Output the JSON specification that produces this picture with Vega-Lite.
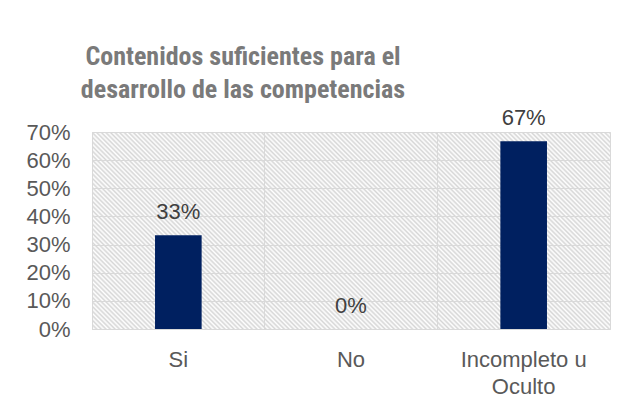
{
  "$schema": "https://vega.github.io/schema/vega-lite/v6.json",
  "width": 518,
  "height": 197,
  "autosize": {"type": "none"},
  "padding": {"left": 92, "top": 132, "right": 19, "bottom": 78},
  "background": "white",
  "title": {
    "text": ["Contenidos suficientes para el", "desarrollo de las competencias"],
    "anchor": "start",
    "align": "center",
    "dx": 151,
    "frame": "group",
    "baseline": "bottom",
    "offset": -22,
    "font": "Roboto Condensed, Liberation Sans Narrow, Lato, sans-serif",
    "fontSize": 26,
    "fontWeight": "bold",
    "color": "#7a7a7a",
    "lineHeight": 33
  },
  "view": {
    "stroke": "#d9d9d9",
    "strokeWidth": 1,
    "fill": {
      "gradient": "linear",
      "x1": 0, "y1": 1, "x2": 1.206, "y2": 0.541,
      "stops": [
{"offset":0,"color":"#d6d6d6"},{"offset":0.0032,"color":"#fff"},{"offset":0.0064,"color":"#d6d6d6"},{"offset":0.0096,"color":"#fff"},
{"offset":0.0128,"color":"#d6d6d6"},{"offset":0.016,"color":"#fff"},{"offset":0.0192,"color":"#d6d6d6"},{"offset":0.0224,"color":"#fff"},
{"offset":0.0256,"color":"#d6d6d6"},{"offset":0.0288,"color":"#fff"},{"offset":0.032,"color":"#d6d6d6"},{"offset":0.0352,"color":"#fff"},
{"offset":0.0384,"color":"#d6d6d6"},{"offset":0.0416,"color":"#fff"},{"offset":0.0448,"color":"#d6d6d6"},{"offset":0.048,"color":"#fff"},
{"offset":0.0512,"color":"#d6d6d6"},{"offset":0.0544,"color":"#fff"},{"offset":0.0576,"color":"#d6d6d6"},{"offset":0.0608,"color":"#fff"},
{"offset":0.064,"color":"#d6d6d6"},{"offset":0.0672,"color":"#fff"},{"offset":0.0704,"color":"#d6d6d6"},{"offset":0.0736,"color":"#fff"},
{"offset":0.0768,"color":"#d6d6d6"},{"offset":0.08,"color":"#fff"},{"offset":0.0832,"color":"#d6d6d6"},{"offset":0.0864,"color":"#fff"},
{"offset":0.0896,"color":"#d6d6d6"},{"offset":0.0928,"color":"#fff"},{"offset":0.096,"color":"#d6d6d6"},{"offset":0.0992,"color":"#fff"},
{"offset":0.1024,"color":"#d6d6d6"},{"offset":0.1056,"color":"#fff"},{"offset":0.1088,"color":"#d6d6d6"},{"offset":0.112,"color":"#fff"},
{"offset":0.1152,"color":"#d6d6d6"},{"offset":0.1184,"color":"#fff"},{"offset":0.1216,"color":"#d6d6d6"},{"offset":0.1248,"color":"#fff"},
{"offset":0.128,"color":"#d6d6d6"},{"offset":0.1312,"color":"#fff"},{"offset":0.1344,"color":"#d6d6d6"},{"offset":0.1376,"color":"#fff"},
{"offset":0.1408,"color":"#d6d6d6"},{"offset":0.144,"color":"#fff"},{"offset":0.1472,"color":"#d6d6d6"},{"offset":0.1504,"color":"#fff"},
{"offset":0.1536,"color":"#d6d6d6"},{"offset":0.1568,"color":"#fff"},{"offset":0.16,"color":"#d6d6d6"},{"offset":0.1632,"color":"#fff"},
{"offset":0.1664,"color":"#d6d6d6"},{"offset":0.1696,"color":"#fff"},{"offset":0.1728,"color":"#d6d6d6"},{"offset":0.176,"color":"#fff"},
{"offset":0.1792,"color":"#d6d6d6"},{"offset":0.1824,"color":"#fff"},{"offset":0.1856,"color":"#d6d6d6"},{"offset":0.1888,"color":"#fff"},
{"offset":0.192,"color":"#d6d6d6"},{"offset":0.1952,"color":"#fff"},{"offset":0.1984,"color":"#d6d6d6"},{"offset":0.2016,"color":"#fff"},
{"offset":0.2048,"color":"#d6d6d6"},{"offset":0.208,"color":"#fff"},{"offset":0.2112,"color":"#d6d6d6"},{"offset":0.2144,"color":"#fff"},
{"offset":0.2176,"color":"#d6d6d6"},{"offset":0.2208,"color":"#fff"},{"offset":0.224,"color":"#d6d6d6"},{"offset":0.2272,"color":"#fff"},
{"offset":0.2304,"color":"#d6d6d6"},{"offset":0.2336,"color":"#fff"},{"offset":0.2368,"color":"#d6d6d6"},{"offset":0.24,"color":"#fff"},
{"offset":0.2432,"color":"#d6d6d6"},{"offset":0.2464,"color":"#fff"},{"offset":0.2496,"color":"#d6d6d6"},{"offset":0.2528,"color":"#fff"},
{"offset":0.256,"color":"#d6d6d6"},{"offset":0.2592,"color":"#fff"},{"offset":0.2624,"color":"#d6d6d6"},{"offset":0.2656,"color":"#fff"},
{"offset":0.2688,"color":"#d6d6d6"},{"offset":0.272,"color":"#fff"},{"offset":0.2752,"color":"#d6d6d6"},{"offset":0.2784,"color":"#fff"},
{"offset":0.2816,"color":"#d6d6d6"},{"offset":0.2848,"color":"#fff"},{"offset":0.288,"color":"#d6d6d6"},{"offset":0.2912,"color":"#fff"},
{"offset":0.2944,"color":"#d6d6d6"},{"offset":0.2976,"color":"#fff"},{"offset":0.3008,"color":"#d6d6d6"},{"offset":0.304,"color":"#fff"},
{"offset":0.3072,"color":"#d6d6d6"},{"offset":0.3104,"color":"#fff"},{"offset":0.3136,"color":"#d6d6d6"},{"offset":0.3168,"color":"#fff"},
{"offset":0.32,"color":"#d6d6d6"},{"offset":0.3232,"color":"#fff"},{"offset":0.3264,"color":"#d6d6d6"},{"offset":0.3296,"color":"#fff"},
{"offset":0.3328,"color":"#d6d6d6"},{"offset":0.336,"color":"#fff"},{"offset":0.3392,"color":"#d6d6d6"},{"offset":0.3424,"color":"#fff"},
{"offset":0.3456,"color":"#d6d6d6"},{"offset":0.3488,"color":"#fff"},{"offset":0.352,"color":"#d6d6d6"},{"offset":0.3552,"color":"#fff"},
{"offset":0.3584,"color":"#d6d6d6"},{"offset":0.3616,"color":"#fff"},{"offset":0.3648,"color":"#d6d6d6"},{"offset":0.368,"color":"#fff"},
{"offset":0.3712,"color":"#d6d6d6"},{"offset":0.3744,"color":"#fff"},{"offset":0.3776,"color":"#d6d6d6"},{"offset":0.3808,"color":"#fff"},
{"offset":0.384,"color":"#d6d6d6"},{"offset":0.3872,"color":"#fff"},{"offset":0.3904,"color":"#d6d6d6"},{"offset":0.3936,"color":"#fff"},
{"offset":0.3968,"color":"#d6d6d6"},{"offset":0.4,"color":"#fff"},{"offset":0.4032,"color":"#d6d6d6"},{"offset":0.4064,"color":"#fff"},
{"offset":0.4096,"color":"#d6d6d6"},{"offset":0.4128,"color":"#fff"},{"offset":0.416,"color":"#d6d6d6"},{"offset":0.4192,"color":"#fff"},
{"offset":0.4224,"color":"#d6d6d6"},{"offset":0.4256,"color":"#fff"},{"offset":0.4288,"color":"#d6d6d6"},{"offset":0.432,"color":"#fff"},
{"offset":0.4352,"color":"#d6d6d6"},{"offset":0.4384,"color":"#fff"},{"offset":0.4416,"color":"#d6d6d6"},{"offset":0.4448,"color":"#fff"},
{"offset":0.448,"color":"#d6d6d6"},{"offset":0.4512,"color":"#fff"},{"offset":0.4544,"color":"#d6d6d6"},{"offset":0.4576,"color":"#fff"},
{"offset":0.4608,"color":"#d6d6d6"},{"offset":0.464,"color":"#fff"},{"offset":0.4672,"color":"#d6d6d6"},{"offset":0.4704,"color":"#fff"},
{"offset":0.4736,"color":"#d6d6d6"},{"offset":0.4768,"color":"#fff"},{"offset":0.48,"color":"#d6d6d6"},{"offset":0.4832,"color":"#fff"},
{"offset":0.4864,"color":"#d6d6d6"},{"offset":0.4896,"color":"#fff"},{"offset":0.4928,"color":"#d6d6d6"},{"offset":0.496,"color":"#fff"},
{"offset":0.4992,"color":"#d6d6d6"},{"offset":0.5024,"color":"#fff"},{"offset":0.5056,"color":"#d6d6d6"},{"offset":0.5088,"color":"#fff"},
{"offset":0.512,"color":"#d6d6d6"},{"offset":0.5152,"color":"#fff"},{"offset":0.5184,"color":"#d6d6d6"},{"offset":0.5216,"color":"#fff"},
{"offset":0.5248,"color":"#d6d6d6"},{"offset":0.528,"color":"#fff"},{"offset":0.5312,"color":"#d6d6d6"},{"offset":0.5344,"color":"#fff"},
{"offset":0.5376,"color":"#d6d6d6"},{"offset":0.5408,"color":"#fff"},{"offset":0.544,"color":"#d6d6d6"},{"offset":0.5472,"color":"#fff"},
{"offset":0.5504,"color":"#d6d6d6"},{"offset":0.5536,"color":"#fff"},{"offset":0.5568,"color":"#d6d6d6"},{"offset":0.56,"color":"#fff"},
{"offset":0.5632,"color":"#d6d6d6"},{"offset":0.5664,"color":"#fff"},{"offset":0.5696,"color":"#d6d6d6"},{"offset":0.5728,"color":"#fff"},
{"offset":0.576,"color":"#d6d6d6"},{"offset":0.5792,"color":"#fff"},{"offset":0.5824,"color":"#d6d6d6"},{"offset":0.5856,"color":"#fff"},
{"offset":0.5888,"color":"#d6d6d6"},{"offset":0.592,"color":"#fff"},{"offset":0.5952,"color":"#d6d6d6"},{"offset":0.5984,"color":"#fff"},
{"offset":0.6016,"color":"#d6d6d6"},{"offset":0.6048,"color":"#fff"},{"offset":0.608,"color":"#d6d6d6"},{"offset":0.6112,"color":"#fff"},
{"offset":0.6144,"color":"#d6d6d6"},{"offset":0.6176,"color":"#fff"},{"offset":0.6208,"color":"#d6d6d6"},{"offset":0.624,"color":"#fff"},
{"offset":0.6272,"color":"#d6d6d6"},{"offset":0.6304,"color":"#fff"},{"offset":0.6336,"color":"#d6d6d6"},{"offset":0.6368,"color":"#fff"},
{"offset":0.64,"color":"#d6d6d6"},{"offset":0.6432,"color":"#fff"},{"offset":0.6464,"color":"#d6d6d6"},{"offset":0.6496,"color":"#fff"},
{"offset":0.6528,"color":"#d6d6d6"},{"offset":0.656,"color":"#fff"},{"offset":0.6592,"color":"#d6d6d6"},{"offset":0.6624,"color":"#fff"},
{"offset":0.6656,"color":"#d6d6d6"},{"offset":0.6688,"color":"#fff"},{"offset":0.672,"color":"#d6d6d6"},{"offset":0.6752,"color":"#fff"},
{"offset":0.6784,"color":"#d6d6d6"},{"offset":0.6816,"color":"#fff"},{"offset":0.6848,"color":"#d6d6d6"},{"offset":0.688,"color":"#fff"},
{"offset":0.6912,"color":"#d6d6d6"},{"offset":0.6944,"color":"#fff"},{"offset":0.6976,"color":"#d6d6d6"},{"offset":0.7008,"color":"#fff"},
{"offset":0.704,"color":"#d6d6d6"},{"offset":0.7072,"color":"#fff"},{"offset":0.7104,"color":"#d6d6d6"},{"offset":0.7136,"color":"#fff"},
{"offset":0.7168,"color":"#d6d6d6"},{"offset":0.72,"color":"#fff"},{"offset":0.7232,"color":"#d6d6d6"},{"offset":0.7264,"color":"#fff"},
{"offset":0.7296,"color":"#d6d6d6"},{"offset":0.7328,"color":"#fff"},{"offset":0.736,"color":"#d6d6d6"},{"offset":0.7392,"color":"#fff"},
{"offset":0.7424,"color":"#d6d6d6"},{"offset":0.7456,"color":"#fff"},{"offset":0.7488,"color":"#d6d6d6"},{"offset":0.752,"color":"#fff"},
{"offset":0.7552,"color":"#d6d6d6"},{"offset":0.7584,"color":"#fff"},{"offset":0.7616,"color":"#d6d6d6"},{"offset":0.7648,"color":"#fff"},
{"offset":0.768,"color":"#d6d6d6"},{"offset":0.7712,"color":"#fff"},{"offset":0.7744,"color":"#d6d6d6"},{"offset":0.7776,"color":"#fff"},
{"offset":0.7808,"color":"#d6d6d6"},{"offset":0.784,"color":"#fff"},{"offset":0.7872,"color":"#d6d6d6"},{"offset":0.7904,"color":"#fff"},
{"offset":0.7936,"color":"#d6d6d6"},{"offset":0.7968,"color":"#fff"},{"offset":0.8,"color":"#d6d6d6"},{"offset":0.8032,"color":"#fff"},
{"offset":0.8064,"color":"#d6d6d6"},{"offset":0.8096,"color":"#fff"},{"offset":0.8128,"color":"#d6d6d6"},{"offset":0.816,"color":"#fff"},
{"offset":0.8192,"color":"#d6d6d6"},{"offset":0.8224,"color":"#fff"},{"offset":0.8256,"color":"#d6d6d6"},{"offset":0.8288,"color":"#fff"},
{"offset":0.832,"color":"#d6d6d6"},{"offset":0.8352,"color":"#fff"},{"offset":0.8384,"color":"#d6d6d6"},{"offset":0.8416,"color":"#fff"},
{"offset":0.8448,"color":"#d6d6d6"},{"offset":0.848,"color":"#fff"},{"offset":0.8512,"color":"#d6d6d6"},{"offset":0.8544,"color":"#fff"},
{"offset":0.8576,"color":"#d6d6d6"},{"offset":0.8608,"color":"#fff"},{"offset":0.864,"color":"#d6d6d6"},{"offset":0.8672,"color":"#fff"},
{"offset":0.8704,"color":"#d6d6d6"},{"offset":0.8736,"color":"#fff"},{"offset":0.8768,"color":"#d6d6d6"},{"offset":0.88,"color":"#fff"},
{"offset":0.8832,"color":"#d6d6d6"},{"offset":0.8864,"color":"#fff"},{"offset":0.8896,"color":"#d6d6d6"},{"offset":0.8928,"color":"#fff"},
{"offset":0.896,"color":"#d6d6d6"},{"offset":0.8992,"color":"#fff"},{"offset":0.9024,"color":"#d6d6d6"},{"offset":0.9056,"color":"#fff"},
{"offset":0.9088,"color":"#d6d6d6"},{"offset":0.912,"color":"#fff"},{"offset":0.9152,"color":"#d6d6d6"},{"offset":0.9184,"color":"#fff"},
{"offset":0.9216,"color":"#d6d6d6"},{"offset":0.9248,"color":"#fff"},{"offset":0.928,"color":"#d6d6d6"},{"offset":0.9312,"color":"#fff"},
{"offset":0.9344,"color":"#d6d6d6"},{"offset":0.9376,"color":"#fff"},{"offset":0.9408,"color":"#d6d6d6"},{"offset":0.944,"color":"#fff"},
{"offset":0.9472,"color":"#d6d6d6"},{"offset":0.9504,"color":"#fff"},{"offset":0.9536,"color":"#d6d6d6"},{"offset":0.9568,"color":"#fff"},
{"offset":0.96,"color":"#d6d6d6"},{"offset":0.9632,"color":"#fff"},{"offset":0.9664,"color":"#d6d6d6"},{"offset":0.9696,"color":"#fff"},
{"offset":0.9728,"color":"#d6d6d6"},{"offset":0.976,"color":"#fff"},{"offset":0.9792,"color":"#d6d6d6"},{"offset":0.9824,"color":"#fff"},
{"offset":0.9856,"color":"#d6d6d6"},{"offset":0.9888,"color":"#fff"},{"offset":0.992,"color":"#d6d6d6"},{"offset":0.9952,"color":"#fff"},
{"offset":0.9984,"color":"#d6d6d6"},{"offset":1,"color":"#fff"}
      ]
    }
  },
  "data": {
    "values": [
      {"categoria": "Si", "valor": 0.3333},
      {"categoria": "No", "valor": 0},
      {"categoria": "Incompleto u Oculto", "valor": 0.6667}
    ]
  },
  "encoding": {
    "x": {
      "field": "categoria",
      "type": "nominal",
      "sort": null,
      "scale": {"paddingInner": 0, "paddingOuter": 0},
      "axis": {
        "title": null,
        "labelAngle": 0,
        "domain": false,
        "ticks": false,
        "grid": true,
        "gridColor": "#d9d9d9",
        "gridWidth": 1,
        "bandPosition": 0,
        "labelPadding": 20,
        "labelFont": "Liberation Sans",
        "labelFontSize": 22,
        "labelColor": "#595959",
        "labelLineHeight": 27,
        "labelBaseline": "top",
        "labelExpr": "datum.label == 'Incompleto u Oculto' ? ['Incompleto u', 'Oculto'] : datum.label"
      }
    },
    "y": {
      "field": "valor",
      "type": "quantitative",
      "scale": {"domain": [0, 0.7]},
      "axis": {
        "title": null,
        "values": [0, 0.1, 0.2, 0.3, 0.4, 0.5, 0.6, 0.7],
        "format": ".0%",
        "domain": false,
        "ticks": false,
        "tickSize": 0,
        "grid": true,
        "gridColor": "#d9d9d9",
        "gridWidth": 1,
        "labelPadding": 22,
        "labelFont": "Liberation Sans",
        "labelFontSize": 22,
        "labelColor": "#595959"
      }
    }
  },
  "layer": [
    {"mark": {"type": "bar", "color": "#002060", "width": {"band": 0.27}}},
    {
      "mark": {"type": "text", "dy": -16, "baseline": "alphabetic", "font": "Liberation Sans", "fontSize": 22, "color": "#404040"},
      "encoding": {"text": {"field": "valor", "type": "quantitative", "format": ".0%"}}
    }
  ]
}
